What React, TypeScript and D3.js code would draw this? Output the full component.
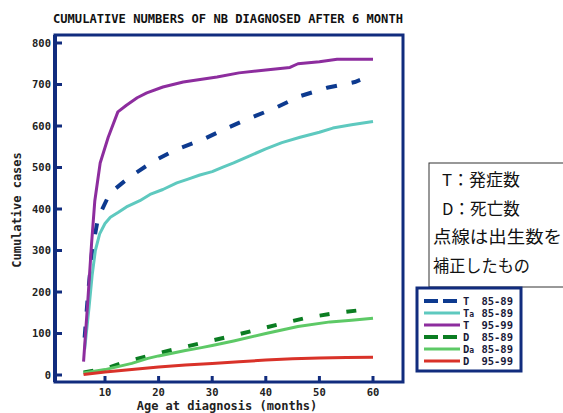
import React from "react";
import * as d3 from "d3";

const TITLE = "CUMULATIVE NUMBERS OF NB DIAGNOSED AFTER 6 MONTH";
const X_TICKS = [10, 20, 30, 40, 50, 60];
const Y_TICKS = [0, 100, 200, 300, 400, 500, 600, 700, 800];

// [month, cumulative cases]
const T8589: [number, number][] = [
  [6.2, 90], [6.8, 190], [7.6, 300], [8.7, 378], [10.9, 438], [14.6, 477], [18.8, 513],
  [23, 542], [28, 566], [32.4, 593], [37, 619], [41.7, 643], [46.4, 672], [51.4, 692],
  [56.6, 706], [57.6, 711],
];
const Ta8589: [number, number][] = [
  [6.2, 62], [7, 160], [7.6, 240], [8.2, 300], [9, 340], [10, 365], [11, 380], [12.5, 392],
  [14, 405], [16.5, 420], [18.4, 435], [20.8, 447], [23.4, 463], [25.5, 472], [27.7, 482],
  [30, 490], [32, 501], [34, 511], [37, 528], [40, 545], [43, 560], [46.4, 573], [50, 585],
  [52.5, 595], [56, 603], [60, 611],
];
const T9599: [number, number][] = [
  [6, 32], [6.8, 180], [7.5, 318], [8.1, 420], [9.1, 511], [10.6, 573], [12.4, 634],
  [14, 650], [16, 668], [17.8, 680], [20.8, 694], [24.6, 706], [30.9, 718], [35, 728],
  [40, 735], [44.5, 741], [46, 750], [50, 755], [53.3, 761], [60, 761],
];
const D8589: [number, number][] = [
  [6, 6], [10, 15], [13, 28], [18, 46], [23, 62], [28, 77], [33, 92], [38, 108], [43, 124],
  [48, 139], [53, 149], [60, 160],
];
const Da8589: [number, number][] = [
  [6, 5], [8, 9], [10, 13], [12, 19], [15, 28], [18, 40], [20, 46], [25, 59], [28, 66],
  [30, 71], [34, 82], [40, 100], [46, 117], [52, 128], [56, 132], [60, 137],
];
const D9599: [number, number][] = [
  [6, 1], [10, 7], [15, 13], [20, 19], [25, 24], [30, 28], [35, 32], [40, 36], [45, 39],
  [50, 41], [55, 42], [60, 43],
];

const SERIES = [
  { name: "T", sub: "", period: "85-89", data: T8589, color: "#0d3a8f", dash: "11,15", w: 4 },
  { name: "T", sub: "a", period: "85-89", data: Ta8589, color: "#5ec9bf", dash: "", w: 3 },
  { name: "T", sub: "", period: "95-99", data: T9599, color: "#8d2d9e", dash: "", w: 3 },
  { name: "D", sub: "", period: "85-89", data: D8589, color: "#0b7d22", dash: "10,17", w: 4 },
  { name: "D", sub: "a", period: "85-89", data: Da8589, color: "#5dc966", dash: "", w: 3 },
  { name: "D", sub: "", period: "95-99", data: D9599, color: "#d93229", dash: "", w: 3 },
];

const NOTE_LINES = ["T：発症数", "D：死亡数", "点線は出生数を", "補正したもの"];
const NOTE_WIDTHS = [78, 78, 129, 97];

const NAVY = "#112c7e";
const MONO = "'DejaVu Sans Mono', monospace";

export default function App() {
  const x = d3.scaleLinear().domain([0, 60]).range([51.4, 373]);
  const y = d3.scaleLinear().domain([0, 800]).range([375, 43]);
  const line = d3
    .line<[number, number]>()
    .x((d) => x(d[0]))
    .y((d) => y(d[1]));

  const frame = { x0: 55, y0: 35, x1: 403, y1: 382 };

  return (
    <svg
      width={563}
      height={413}
      style={{ position: "absolute", left: 0, top: 0, background: "#fff" }}
    >
      <rect width={563} height={413} fill="#fff" />
      <text
        x={53}
        y={23}
        fontFamily={MONO}
        fontWeight="bold"
        fontSize={13}
        textLength={350}
        lengthAdjust="spacingAndGlyphs"
        fill="#111"
      >
        {TITLE}
      </text>

      {/* frame */}
      <rect
        x={frame.x0}
        y={frame.y0}
        width={frame.x1 - frame.x0}
        height={frame.y1 - frame.y0}
        fill="none"
        stroke={NAVY}
        strokeWidth={3}
      />
      <line x1={frame.x0} x2={frame.x0} y1={frame.y0} y2={frame.y1} stroke={NAVY} strokeWidth={4} />

      {/* y ticks */}
      {Y_TICKS.map((t) => (
        <g key={"y" + t}>
          <line x1={frame.x0} x2={frame.x0 + 7} y1={y(t)} y2={y(t)} stroke={NAVY} strokeWidth={3} />
          <text
            x={51}
            y={y(t)}
            dy="0.35em"
            textAnchor="end"
            fontFamily={MONO}
            fontWeight="bold"
            fontSize={10.5}
            fill="#222"
          >
            {t}
          </text>
        </g>
      ))}

      {/* x ticks */}
      {X_TICKS.map((t) => (
        <g key={"x" + t}>
          <line x1={x(t)} x2={x(t)} y1={frame.y1} y2={frame.y1 - 6} stroke={NAVY} strokeWidth={3} />
          <text
            x={x(t)}
            y={396}
            textAnchor="middle"
            fontFamily={MONO}
            fontWeight="bold"
            fontSize={10.5}
            fill="#222"
          >
            {t}
          </text>
        </g>
      ))}

      <text
        x={227}
        y={410}
        textAnchor="middle"
        fontFamily={MONO}
        fontWeight="bold"
        fontSize={12}
        fill="#222"
      >
        Age at diagnosis (months)
      </text>
      <text
        transform="translate(21,210) rotate(-90)"
        textAnchor="middle"
        fontFamily={MONO}
        fontWeight="bold"
        fontSize={12}
        fill="#222"
      >
        Cumulative cases
      </text>

      {/* series */}
      {SERIES.map((s, i) => (
        <path
          key={"s" + i}
          d={line(s.data) || ""}
          fill="none"
          stroke={s.color}
          strokeWidth={s.w}
          strokeDasharray={s.dash || undefined}
          strokeLinejoin="round"
        />
      ))}

      {/* note box */}
      <rect x={429} y={163} width={150} height={124} fill="#fff" stroke="#333" strokeWidth={1} />
      {NOTE_LINES.map((t, i) => (
        <text
          key={"n" + i}
          x={i < 2 ? 442 : 433}
          y={186 + i * 28.7}
          fontFamily="'Noto Sans CJK JP', sans-serif"
          fontSize={16.5}
          textLength={NOTE_WIDTHS[i]}
          lengthAdjust="spacingAndGlyphs"
          fill="#111"
        >
          {t}
        </text>
      ))}

      {/* legend */}
      <rect x={417} y={288} width={104} height={83} fill="#fff" stroke={NAVY} strokeWidth={3} />
      {SERIES.map((s, i) => {
        const ly = 301 + i * 12;
        return (
          <g key={"l" + i}>
            <line
              x1={424}
              x2={460}
              y1={ly}
              y2={ly}
              stroke={s.color}
              strokeWidth={s.w}
              strokeDasharray={s.dash ? "14,5" : undefined}
            />
            <text
              x={463}
              y={ly}
              dy="0.35em"
              fontFamily={MONO}
              fontWeight="bold"
              fontSize={10.5}
              fill="#1a1a3a"
            >
              {s.name}
              {s.sub ? <tspan fontSize={8}>{s.sub}</tspan> : null}
            </text>
            <text
              x={513}
              y={ly}
              dy="0.35em"
              textAnchor="end"
              fontFamily={MONO}
              fontWeight="bold"
              fontSize={10.5}
              fill="#1a1a3a"
            >
              {s.period}
            </text>
          </g>
        );
      })}
    </svg>
  );
}
